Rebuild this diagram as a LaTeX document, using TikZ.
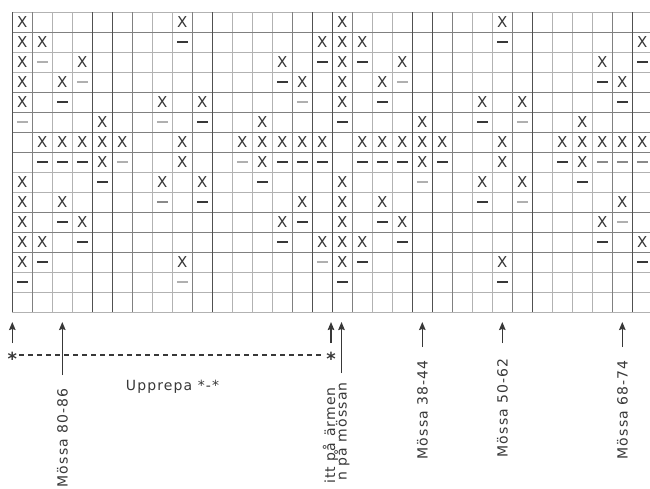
\documentclass[tikz,border=0pt]{standalone}
\usepackage{fontspec}
\setmainfont{DejaVu Sans}
\newfontfamily\chartfont[LetterSpace=8]{DejaVu Sans}
\usepackage{tikz}
\usetikzlibrary{arrows.meta}
\definecolor{chartink}{HTML}{383838}
\definecolor{chartdark}{HTML}{505050}
\definecolor{chartline}{HTML}{808080}
\definecolor{chartfaint}{HTML}{B2B2B2}
\definecolor{dashmid}{HTML}{8A8A8A}
\definecolor{dashlight}{HTML}{B0B0B0}

\begin{document}
\begin{tikzpicture}[
  x=1pt, y=-1pt,
  gridthin/.style={draw=chartfaint, line width=0.9pt},
  gridmid/.style={draw=chartline, line width=1pt},
  gridthick/.style={draw=chartdark, line width=1.4pt},
  xmark/.style={font=\fontsize{15}{15}\selectfont, text=chartink, inner sep=0pt},
  dashd/.style={fill=chartink, minimum width=10.5pt, minimum height=2pt, inner sep=0pt},
  dashm/.style={dashd, fill=dashmid},
  dashl/.style={dashd, fill=dashlight},
  pointer/.style={-{Stealth[length=8pt, width=6.5pt, inset=1pt]}, line width=1.2pt, draw=chartink},
  sidelabel/.style={font=\chartfont\fontsize{14}{14}\selectfont, text=chartink, rotate=90, anchor=east, inner sep=0pt},
  repeattext/.style={font=\chartfont\fontsize{14}{14}\selectfont, text=chartink, anchor=base, inner sep=0pt},
  starmark/.style={font=\bfseries\fontsize{18}{18}\selectfont, text=chartink, inner xsep=2pt, inner ysep=0pt, text height=0.2em, text depth=0.2em},
  repeatline/.style={dash pattern=on 5pt off 4pt, line width=1.2pt, draw=chartink}
]

% page frame
\fill[white] (0,0) rectangle (650,488);
\useasboundingbox (0,0) rectangle (650,488);
\clip (0,0) rectangle (650,488);

% chart grid, 32 columns x 15 rows
\foreach \r in {0,2,3,8,9,13,14,15}
  \draw[gridthin] (12.3,{12.3+20*\r}) -- (652.3,{12.3+20*\r});
\foreach \k in {2,3,7,8,11,12,13,18,19,23,24,27,28,29}
  \draw[gridthin] ({12.3+20*\k},12.3) -- ({12.3+20*\k},312.3);
\foreach \r in {1,4,5,6,7,10,11,12}
  \draw[gridmid] (12.3,{12.3+20*\r}) -- (652.3,{12.3+20*\r});
\foreach \k in {1,6,9,14,17,22,25,30}
  \draw[gridmid] ({12.3+20*\k},12.3) -- ({12.3+20*\k},312.3);
\foreach \k in {0,4,5,10,15,16,20,21,26,31,32}
  \draw[gridthick] ({12.3+20*\k},12.3) -- ({12.3+20*\k},312.3);

% X stitches, repeated every 16 columns
\foreach \c/\r in {0/0, 8/0, 0/1, 1/1, 15/1, 0/2, 3/2, 13/2, 0/3, 2/3, 14/3,
    0/4, 7/4, 9/4, 4/5, 12/5,
    1/6, 2/6, 3/6, 4/6, 5/6, 8/6, 11/6, 12/6, 13/6, 14/6, 15/6,
    4/7, 8/7, 12/7, 0/8, 7/8, 9/8, 0/9, 2/9, 14/9,
    0/10, 3/10, 13/10, 0/11, 1/11, 15/11, 0/12, 8/12} {
  \node[xmark] (xa-\c-\r) at ({22.3+20*\c},{22.3+20*\r}) {X};
  \node[xmark] (xb-\c-\r) at ({22.3+20*(\c+16)},{22.3+20*\r}) {X};
}

% dash stitches (shade of first and second repeat)
\foreach \c/\r/\a/\b in {8/1/dashd/dashd,
    1/2/dashl/dashd, 15/2/dashd/dashd,
    3/3/dashl/dashl, 13/3/dashd/dashd,
    2/4/dashd/dashd, 14/4/dashl/dashd,
    0/5/dashl/dashd, 7/5/dashl/dashd, 9/5/dashd/dashl,
    1/7/dashd/dashd, 2/7/dashd/dashd, 3/7/dashd/dashd, 5/7/dashl/dashd,
    11/7/dashl/dashd, 13/7/dashd/dashm, 14/7/dashd/dashm, 15/7/dashd/dashm,
    4/8/dashd/dashl, 12/8/dashd/dashd,
    7/9/dashm/dashd, 9/9/dashd/dashl,
    2/10/dashd/dashd, 14/10/dashd/dashl,
    3/11/dashd/dashd, 13/11/dashd/dashd,
    1/12/dashd/dashd, 15/12/dashl/dashd,
    0/13/dashd/dashd, 8/13/dashl/dashd} {
  \node[\a] (da-\c-\r) at ({22.3+20*\c},{22.3+20*\r}) {};
  \node[\b] (db-\c-\r) at ({22.3+20*(\c+16)},{22.3+20*\r}) {};
}

% pointers up to the chart
\coordinate (start0) at (12.3,343);    \coordinate (tip0) at (12.3,322);
\coordinate (start80) at (62.3,375);   \coordinate (tip80) at (62.3,322);
\coordinate (start16) at (331,343);    \coordinate (tip16) at (331,322);
\coordinate (startcap) at (341.5,373); \coordinate (tipcap) at (341.5,322);
\coordinate (start38) at (422.3,347);  \coordinate (tip38) at (422.3,322);
\coordinate (start50) at (502.3,343);  \coordinate (tip50) at (502.3,322);
\coordinate (start68) at (622.3,347);  \coordinate (tip68) at (622.3,322);
\foreach \p in {0,80,16,cap,38,50,68}
  \draw[pointer] (start\p) -- (tip\p);

% repeat marks
\node[starmark] (star0) at (12.3,355) {\raisebox{-0.56em}{*}};
\node[starmark] (star16) at (331,355) {\raisebox{-0.56em}{*}};
\draw[repeatline] (star0) -- (star16);
\node[repeattext] (repeat) at (172.5,390) {Upprepa *-*};

% size labels
\node[sidelabel] (m8086) at (62.3,388) {Mössa 80-86};
\node[sidelabel] (arm) at (330.5,387) {itt på ärmen};
\node[sidelabel] (cap) at (342,382) {n på mössan};
\node[sidelabel] (m3844) at (422.3,360) {Mössa 38-44};
\node[sidelabel] (m5062) at (502.3,358) {Mössa 50-62};
\node[sidelabel] (m6874) at (622.3,360) {Mössa 68-74};

\end{tikzpicture}
\end{document}
